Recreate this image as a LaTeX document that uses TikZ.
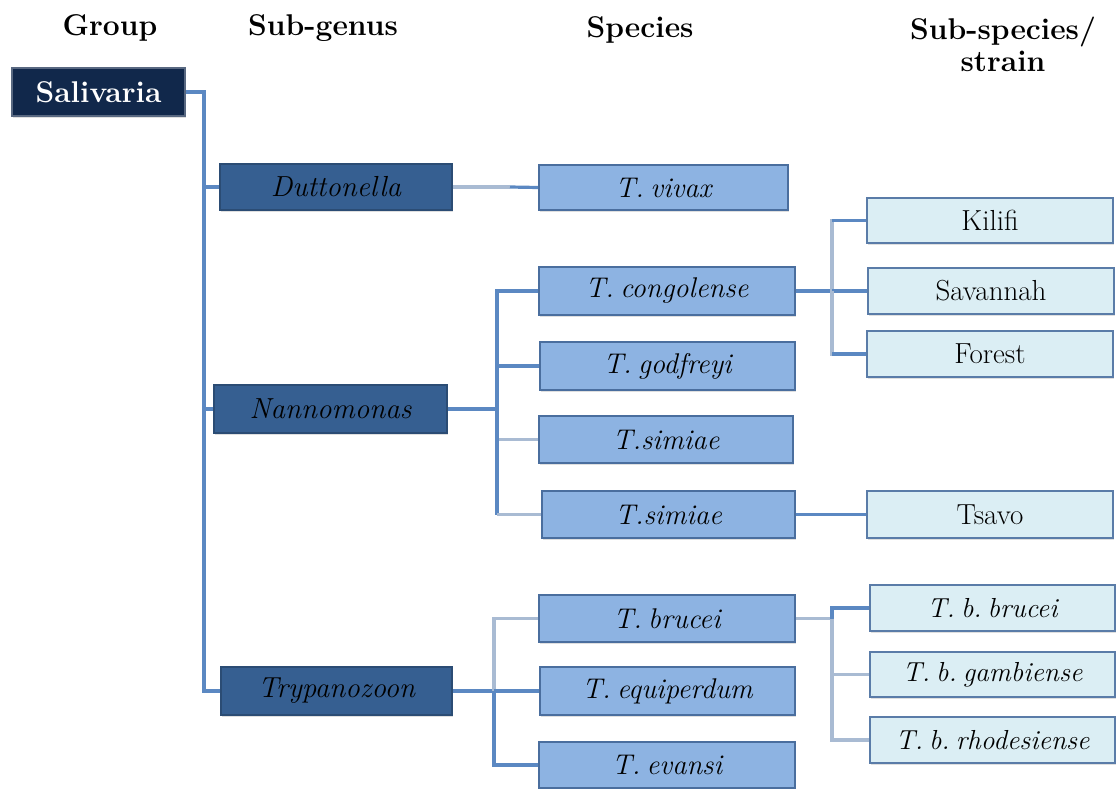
\documentclass[tikz,border=0pt]{standalone}
\usepackage{fontspec}
\usetikzlibrary{shadows,backgrounds}
\newcommand\myg{\kern0.22em}
\definecolor{navy}{HTML}{11284B}
\definecolor{subg}{HTML}{365F91}
\definecolor{spec}{HTML}{8DB3E2}
\definecolor{specb}{HTML}{4A6E9E}
\definecolor{subs}{HTML}{DBEEF4}
\definecolor{subsb}{HTML}{5A7CA8}
\definecolor{lineb}{HTML}{5B88C2}
\definecolor{linel}{HTML}{A9BBD3}
\tikzset{
  box/.style={rectangle, draw, line width=1.5pt, inner sep=0pt, minimum height=47pt,
    font=\fontsize{29}{32}\selectfont,
    drop shadow={shadow xshift=1pt, shadow yshift=-2pt, opacity=0.25}},
  groupbox/.style={box, fill=navy, draw=navy!70!white, text=white,
    font=\fontsize{30}{32}\selectfont\bfseries},
  subgbox/.style={box, fill=subg, draw=subg!80!black, text=black, font=\fontsize{29}{32}\selectfont\itshape},
  specbox/.style={box, fill=spec, draw=specb, text=black, font=\fontsize{28.5}{32}\selectfont\itshape},
  subsbox/.style={box, fill=subs, draw=subsb, text=black},
  subsit/.style={subsbox, font=\fontsize{27.5}{32}\selectfont\itshape},
  head/.style={font=\fontsize{30}{32}\selectfont\bfseries, align=center},
  conn/.style={draw=lineb, line width=3.2pt},
  connl/.style={draw=linel, line width=3.2pt},
}
\begin{document}
\begin{tikzpicture}[x=1pt,y=-1pt]
\useasboundingbox (0,0) rectangle (1117,788);
% headers
\node[head] (hg) at (110,28) {Group};
\node[head] (hsg) at (323,28) {Sub-genus};
\node[head] (hsp) at (640,30) {Species};
\node[head] (hss) at (1003,44) {Sub-species/\\strain};
% group
\node[groupbox, minimum width=173pt, minimum height=48pt] (sal) at (98.5,92) {Salivaria};
% sub-genus
\node[subgbox, minimum width=232pt, minimum height=46pt] (dutt) at (336,187) {Duttonella};
\node[subgbox, minimum width=233pt, minimum height=48pt] (nann) at (330.5,409) {Nannomonas};
\node[subgbox, minimum width=231pt, minimum height=48pt] (tryp) at (336.5,691) {Trypanozoon};
% species
\node[specbox, minimum width=249pt, minimum height=45pt] (viv) at (663.5,187.5) {T.\myg vivax};
\node[specbox, minimum width=256pt, minimum height=48pt] (cong) at (667,291) {T.\myg congolense};
\node[specbox, minimum width=255pt, minimum height=48pt] (godf) at (667.5,366) {T.\myg godfreyi};
\node[specbox, minimum width=254pt, minimum height=47pt] (sima) at (666,439.5) {T.simiae};
\node[specbox, minimum width=253pt, minimum height=47pt] (simb) at (668.5,514.5) {T.simiae};
\node[specbox, minimum width=256pt, minimum height=47pt] (bruc) at (667,618.5) {T.\myg brucei};
\node[specbox, minimum width=255pt, minimum height=48pt] (equi) at (667.5,691) {T.\myg equiperdum};
\node[specbox, minimum width=256pt, minimum height=46pt] (evan) at (667,765) {T.\myg evansi};
% sub-species
\node[subsbox, minimum width=246pt, minimum height=45pt] (kili) at (990,220.5) {Kilifi};
\node[subsbox, minimum width=246pt, minimum height=46pt] (sava) at (991,291) {Savannah};
\node[subsbox, minimum width=246pt, minimum height=46pt] (fore) at (990,354) {Forest};
\node[subsbox, minimum width=246pt, minimum height=47pt] (tsav) at (990,514.5) {Tsavo};
\node[subsit, minimum width=245pt, minimum height=46pt] (bbru) at (992.5,608) {T.\myg b.\myg brucei};
\node[subsit, minimum width=245pt, minimum height=45pt] (bgam) at (992.5,674.5) {T.\myg b.\myg gambiense};
\node[subsit, minimum width=245pt, minimum height=46pt] (brho) at (992.5,740) {T.\myg b.\myg rhodesiense};
% junction coordinates
\coordinate (t0) at (204,92);
\coordinate (n0) at (497,409);
\coordinate (p0) at (494,691);
\coordinate (c0) at (832,291);
\coordinate (b0) at (832,618.5);
\coordinate (v0) at (510,187);
% connectors
\begin{scope}[on background layer]
\draw[conn] (sal.east) -- (t0) |- (tryp.west);
\draw[conn] (t0) |- (dutt.west);
\draw[conn] (t0) |- (nann.west);
\draw[connl] (dutt.east) -- (v0);
\draw[conn] (v0) -- (viv.west);
\draw[conn] (nann.east) -- (n0);
\draw[conn] (n0) |- (cong.west);
\draw[conn] (n0) |- (godf.west);
\draw[connl] (n0) |- (sima.west);
\draw[conn] (n0) -- (n0 |- simb.west);
\draw[connl] (n0 |- simb.west) -- (simb.west);
\draw[conn] (tryp.east) -- (p0);
\draw[connl] (p0) |- (bruc.west);
\draw[conn] (p0) |- (equi.west);
\draw[conn] (p0) |- (evan.west);
\draw[conn] (cong.east) -- (c0);
\draw[connl] (c0) |- (kili.west);
\draw[conn] (c0 |- kili.west) -- (kili.west);
\draw[conn] (c0) -- (sava.west);
\draw[connl] (c0) |- (fore.west);
\draw[conn] (c0 |- fore.west) -- (fore.west);
\draw[conn] (simb.east) -- (tsav.west);
\draw[connl] (bruc.east) -- (b0);
\draw[conn] (b0) |- (bbru.west);
\draw[connl] (b0) |- (bgam.west);
\draw[connl] (b0) |- (brho.west);
\end{scope}
\end{tikzpicture}
\end{document}
